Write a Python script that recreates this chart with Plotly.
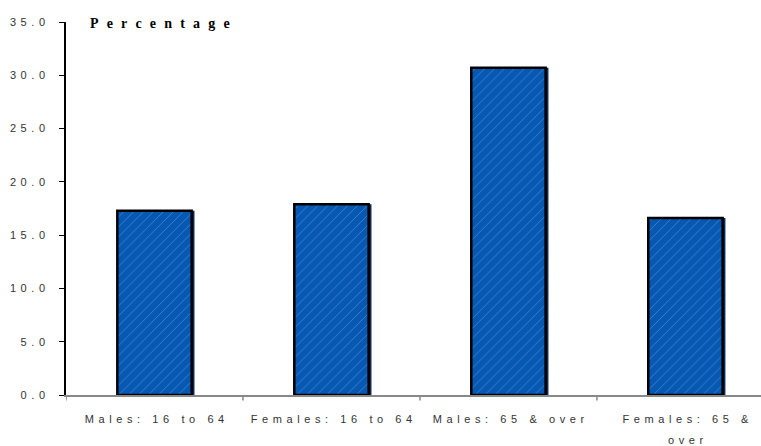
import plotly.graph_objects as go

categories = ["Males: 16 to 64", "Females: 16 to 64", "Males: 65 & over", "Females: 65 &\nover"]
values = [17.3, 17.9, 30.7, 16.6]
ytick_vals = [0, 5, 10, 15, 20, 25, 30, 35]
ytick_text = ["0.0", "5.0", "10.0", "15.0", "20.0", "25.0", "30.0", "35.0"]
title_text = "Percentage"

GAP = "\u2004\u200a"
def spaced(s, gap=GAP):
    return gap.join(list(s))

x_idx = list(range(len(categories)))
first_lines = [c.split("\n")[0] for c in categories]

fig = go.Figure()
# shadow
fig.add_trace(go.Bar(
    x=x_idx, y=values, width=0.42, offset=-0.21 + 0.016,
    marker=dict(color="#0b2a52", line=dict(width=0)),
    hoverinfo="skip", showlegend=False,
))
fig.add_trace(go.Bar(
    x=x_idx, y=values, width=0.42, offset=-0.21,
    marker=dict(
        color="#0758b2",
        line=dict(color="#000000", width=2.5),
        pattern=dict(shape="/", fgcolor="#7ab0ea", size=7, solidity=0.1, fillmode="overlay", fgopacity=0.6),
    ),
    showlegend=False,
))

annotations = [dict(
    text="<b>" + spaced(title_text, "\u2002\u200a") + "</b>",
    xref="paper", yref="paper", x=(88 - 66) / 695, y=1.0, xanchor="left", yanchor="middle", yshift=-1,
    showarrow=False, font=dict(family="Liberation Serif, Times New Roman, serif", size=14, color="#000000"),
)]
for i, c in enumerate(categories):
    lines = c.split("\n")
    for j, ln in enumerate(lines[1:], start=1):
        annotations.append(dict(
            text=spaced(ln), xref="x", yref="paper", x=i, y=0, xanchor="center", yanchor="middle",
            yshift=-(22 + 23 * j), showarrow=False,
            font=dict(family="Liberation Sans, Arial, sans-serif", size=11, color="#333333"),
        ))

fig.update_layout(
    width=761, height=446,
    margin=dict(l=66, r=0, t=22, b=51),
    paper_bgcolor="white", plot_bgcolor="white",
    barmode="overlay",
    font=dict(family="Liberation Sans, Arial, sans-serif", size=11, color="#333333"),
    xaxis=dict(
        range=[-0.5, 3.427],
        tickmode="array", tickvals=x_idx, ticktext=[spaced(c) for c in first_lines],
        showline=True, linecolor="#888888", linewidth=1.5,
        ticks="", showgrid=False, zeroline=False, ticklabelstandoff=13,
        tickfont=dict(size=11, color="#333333"),
    ),
    yaxis=dict(
        range=[0, 35],
        tickmode="array", tickvals=ytick_vals, ticktext=[spaced(t) for t in ytick_text],
        showline=True, linecolor="#000000", linewidth=1.5,
        ticks="outside", ticklen=5, tickcolor="#000000", tickwidth=1,
        showgrid=False, zeroline=False, ticklabelstandoff=12,
        tickfont=dict(size=11, color="#333333"),
    ),
    annotations=annotations,
)

# category boundary ticks on x-axis
for b in [-0.5, 0.5, 1.5, 2.5]:
    fig.add_shape(type="line", xref="x", yref="paper", x0=b, x1=b, y0=0, y1=-0.015,
                  line=dict(color="#888888", width=1.5))

fig.write_html("out.html")
